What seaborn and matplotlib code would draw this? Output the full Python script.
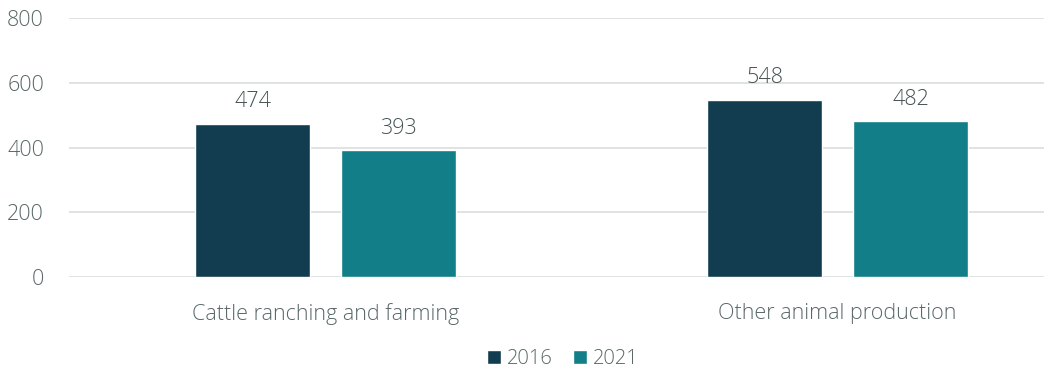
import matplotlib
matplotlib.use("Agg")
import matplotlib.pyplot as plt
import seaborn as sns
import pandas as pd
from matplotlib.patches import Patch

categories = ["Cattle ranching and farming", "Other animal production"]
years = ["2016", "2021"]
values_2016 = [474, 548]
values_2021 = [393, 482]
y_ticks = [0, 200, 400, 600, 800]

colors = {"2016": "#123D50", "2021": "#127E88"}
text_grey = "#5A6868"
label_grey = "#475353"
grid_grey = "#D9DEDE"

df = pd.DataFrame({
    "category": categories * 2,
    "year": [years[0]] * 2 + [years[1]] * 2,
    "value": values_2016 + values_2021,
})

sns.set_theme(style="white")
plt.rcParams["font.family"] = ["Open Sans", "DejaVu Sans"]
plt.rcParams["font.weight"] = "light"

fig = plt.figure(figsize=(10.44, 3.72), dpi=100)
ax = fig.add_axes([69 / 1044, 1 - 277 / 372, 1 - 69 / 1044, (277 - 18) / 372])

sns.barplot(data=df, x="category", y="value", hue="year", order=categories,
            hue_order=years, palette=colors, width=0.57, gap=0.21,
            saturation=1, ax=ax, legend=False)

for container in ax.containers:
    ax.bar_label(container, fmt="%d", padding=8, fontsize=15.5, color=label_grey,
                 fontweight="light")

ax.set_ylim(0, 800)
ax.set_xlim(-0.501, 1.403)
ax.set_yticks(y_ticks)
ax.set_yticklabels([str(t) for t in y_ticks])
ax.yaxis.grid(True, color=grid_grey, linewidth=1.2)
ax.set_axisbelow(True)
for s in ax.spines.values():
    s.set_visible(False)
ax.tick_params(axis="y", length=0, pad=18, labelsize=15.5, labelcolor=text_grey)
ax.tick_params(axis="x", length=0, pad=19, labelsize=15.5, labelcolor=text_grey)
ax.set_xlabel("")
ax.set_ylabel("")

handles = [Patch(facecolor=colors[y], label=y) for y in years]
fig.legend(handles=handles, loc="center", bbox_to_anchor=(563 / 1044, 1 - 359 / 372),
           ncol=2, frameon=False, fontsize=14.5, labelcolor=text_grey,
           handlelength=0.7, handleheight=0.7, handletextpad=0.3, columnspacing=1.0)

fig.savefig("out.png", dpi=100)
